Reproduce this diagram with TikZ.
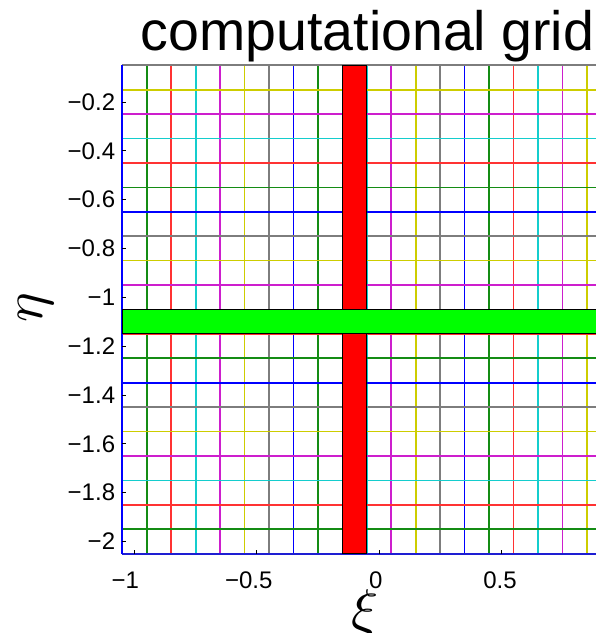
\documentclass[tikz,border=0pt]{standalone}
\usepackage{fontspec}
\setmainfont{Liberation Sans}
\definecolor{gc0}{RGB}{0,0,255}
\definecolor{gc1}{RGB}{20,140,20}
\definecolor{gc2}{RGB}{255,50,50}
\definecolor{gc3}{RGB}{20,205,205}
\definecolor{gc4}{RGB}{205,30,205}
\definecolor{gc5}{RGB}{205,205,0}
\definecolor{gc6}{RGB}{125,125,125}
\definecolor{axblue}{RGB}{30,30,210}
\definecolor{barred}{RGB}{255,0,0}
\definecolor{bargreen}{RGB}{0,255,0}
\tikzset{
  gridline/.style={line width=1.7pt},
  barbox/.style={draw=black, line width=1pt},
  tickmark/.style={draw=black, line width=0.8pt},
  ticklabel/.style={inner sep=0pt, font=\fontsize{24}{24}\selectfont}
}
\begin{document}
\begin{tikzpicture}[x=1pt,y=1pt]
\useasboundingbox (0,-633) rectangle (596,0);
\clip (0,-633) rectangle (596,0);
\fill[white] (0,-633) rectangle (596,0);
\begin{scope}[shift={(379.03pt,-53.09pt)},x=244.5pt,y=244.2pt]
  % vertical grid lines
  \foreach \kk in {0,...,20} {
    \pgfmathsetmacro{\vpos}{-1.05+0.1*\kk}
    \pgfmathtruncatemacro{\cidx}{mod(\kk,7)}
    \draw[gridline, draw=gc\cidx] (\vpos,-2.05) -- (\vpos,-0.05);
  }
  % horizontal grid lines
  \foreach \kk in {0,...,20} {
    \pgfmathsetmacro{\hpos}{-2.05+0.1*\kk}
    \pgfmathtruncatemacro{\cidx}{mod(\kk,7)}
    \draw[gridline, draw=gc\cidx] (-1.05,\hpos) -- (0.95,\hpos);
  }
  \draw[axblue, line width=2.2pt] (-1.05,-2.05) -- (0.95,-2.05);
  \draw[gc0, line width=1.8pt] (-1.05,-2.05) -- (-1.05,-0.05);
  % ticks
  \foreach \t in {-1,-0.5,0,0.5}
    \draw[tickmark] (\t,-2.05) -- ++(0,4pt);
  \foreach \t in {-0.2,-0.4,-0.6,-0.8,-1,-1.2,-1.4,-1.6,-1.8,-2}
    \draw[tickmark] (-1.05,\t) -- ++(4pt,0);
  % bars
  \draw[barbox, fill=barred] (-0.15,-2.05) rectangle (-0.05,-0.05);
  \draw[barbox, fill=bargreen] (-1.05,-1.15) rectangle (0.95,-1.05);
  % y tick labels
  \foreach \t/\l [count=\i] in {-0.2/−0.2,-0.4/−0.4,-0.6/−0.6,-0.8/−0.8,-1/−1,-1.2/−1.2,-1.4/−1.4,-1.6/−1.6,-1.8/−1.8,-2/−2}
    \node[ticklabel, anchor=east] (yl\i) at ([xshift=-7pt]-1.05,\t) {\l};
\end{scope}
% x tick labels
\node[ticklabel, anchor=base] (xl1) at (125.3,-588) {−1};
\node[ticklabel, anchor=base] (xl2) at (248.7,-588) {−0.5};
\node[ticklabel, anchor=base] (xl3) at (375.8,-588) {0};
\node[ticklabel, anchor=base] (xl4) at (500,-588) {0.5};
% title
\node[anchor=base, inner sep=0pt, font=\fontsize{55.5}{60}\selectfont] (title) at (367.5,-50) {computational grid};
% axis labels
\node[inner sep=0pt, rotate=90, scale=5.6] (eta) at (36,-307.5) {$\eta$};
\node[inner sep=0pt, anchor=north, scale=5.6] (xi) at (365,-588) {$\xi$};
\end{tikzpicture}
\end{document}
